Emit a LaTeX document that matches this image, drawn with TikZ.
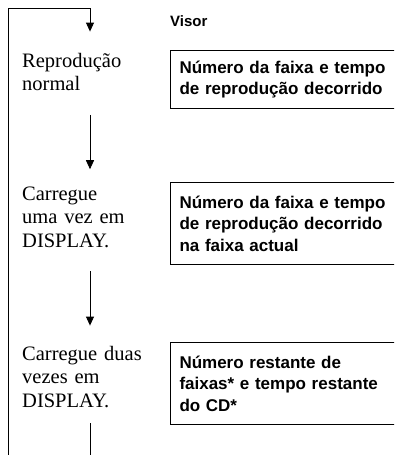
\documentclass[tikz,border=0pt]{standalone}
\usepackage{fontspec}
\setmainfont{Liberation Serif}
\newfontfamily\visorfont{Liberation Sans}
\usetikzlibrary{arrows.meta}

\begin{document}
\begin{tikzpicture}[x=1pt,y=-1pt,>={Triangle[length=9pt,width=8pt]}]
\tikzset{
    passo/.style={%
        anchor=base west,
        inner sep=0pt,
        text width=150pt,
        align=left,
        font=\fontsize{20.5pt}{23.5pt}\selectfont
        },
    visor/.style={%
        draw, line width=1pt,
        anchor=north west,
        inner xsep=9pt, inner ysep=3pt,
        text width=230pt,
        align=left,
        font=\visorfont\bfseries\fontsize{17pt}{21.5pt}\selectfont
        },
    seta/.style={->, line width=0.9pt},
}
\useasboundingbox (0,0) rectangle (394,455);
\clip (0,0) rectangle (394,455);
%%%PASSOS
\node[passo] (st1) at (22,67) {Reprodução\\normal};
\node[passo] (st2) at (22,200) {Carregue\\uma vez em\\DISPLAY.};
\node[passo] (st3) at (22,360) {Carregue duas\\vezes em\\DISPLAY.};
%%%VISOR
\node[anchor=base west, inner sep=0pt,
      font=\visorfont\bfseries\fontsize{15pt}{18pt}\selectfont] (tit) at (170,26.5) {Visor};
\node[visor, minimum height=58pt] (vs1) at (170,50) {Número da faixa e tempo\\de reprodução decorrido};
\node[visor, minimum height=82pt] (vs2) at (170,182) {Número da faixa e tempo\\de reprodução decorrido\\na faixa actual};
\node[visor, minimum height=82pt] (vs3) at (170,342) {Número restante de\\faixas* e tempo restante\\do CD*};
%%%SETAS
\coordinate (ax) at (90,8);
\coordinate (fimE) at (8,460);
\coordinate (fimD) at (90,460);
\draw[seta, shorten >=21pt] (fimE) |- (ax) -- (st1.north -| ax);
\draw[seta, shorten <=24pt, shorten >=17pt] (st1.south -| ax) -- (st2.north -| ax);
\draw[seta, shorten <=24pt, shorten >=20pt] (st2.south -| ax) -- (st3.north -| ax);
\draw[line width=0.9pt, shorten <=16pt] (st3.south -| ax) -- (fimD);
\end{tikzpicture}
\end{document}
